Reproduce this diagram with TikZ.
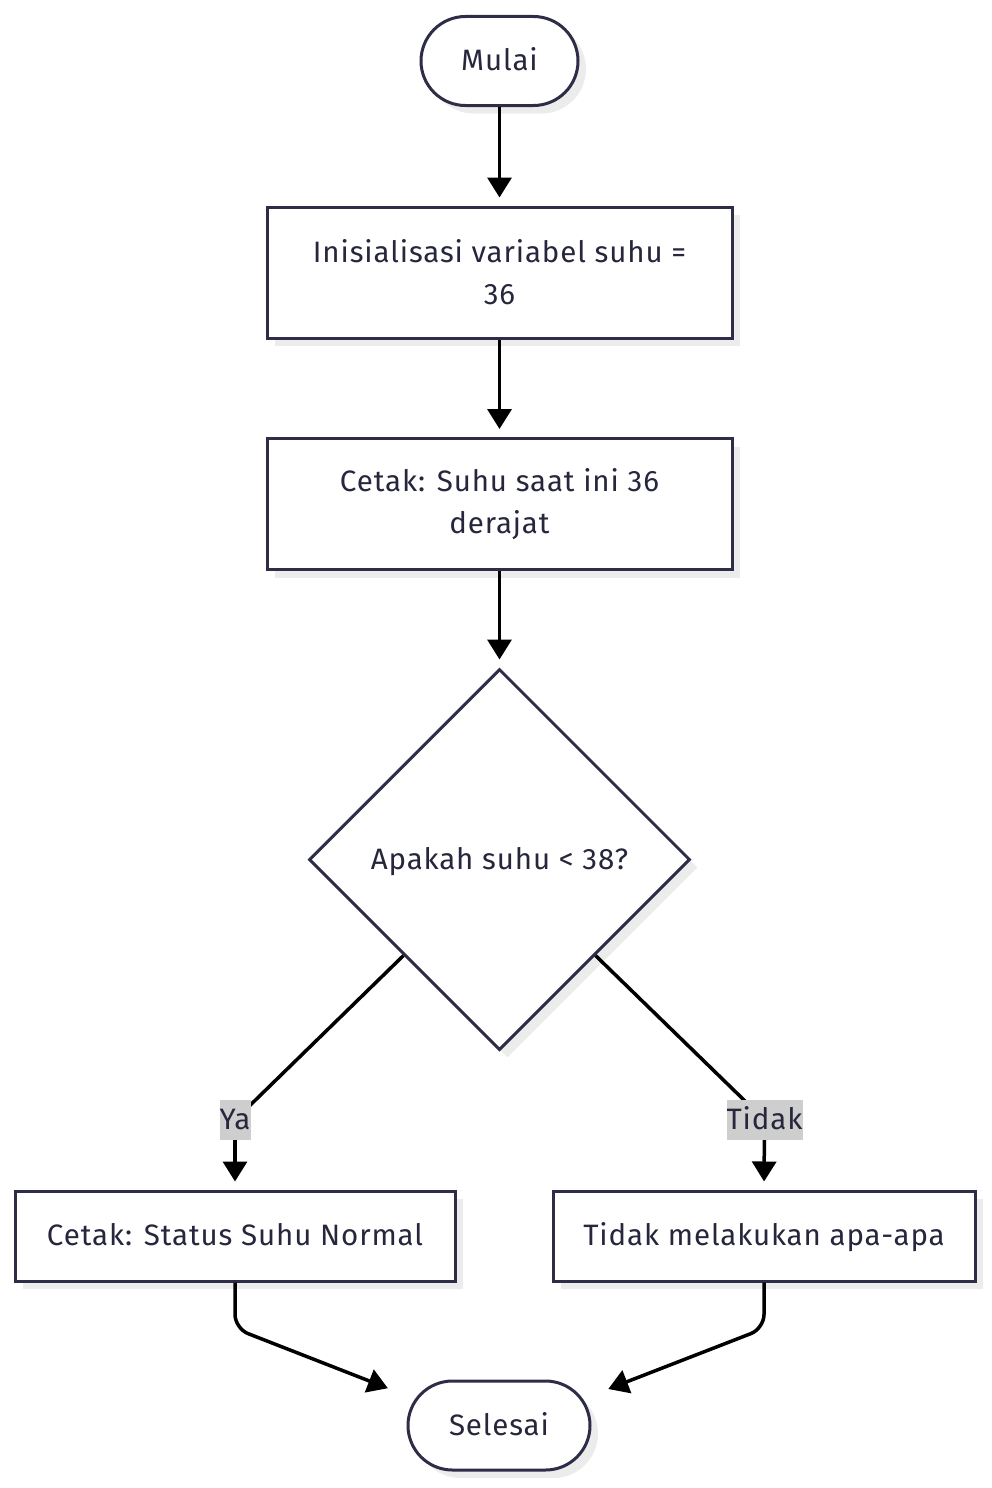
\documentclass[tikz,border=0pt]{standalone}
\usepackage{fontspec}
\setmainfont{Fira Sans}[LetterSpace=3]
\usetikzlibrary{shapes.geometric,arrows.meta,shadows,calc}
\definecolor{ink}{RGB}{38,38,60}
\definecolor{edgec}{RGB}{45,45,72}
\definecolor{shade}{RGB}{236,236,236}
\definecolor{lblgray}{RGB}{206,206,206}
\pgfdeclarelayer{fg}
\pgfsetlayers{main,fg}
\begin{document}
\begin{tikzpicture}[x=1pt,y=-1pt,
  font=\fontsize{29.5}{42}\selectfont, text=ink,
  oneline/.style={text height=24pt, text depth=5pt},
  base/.style={draw=edgec, line width=3pt, fill=white,
    drop shadow={shadow xshift=8pt, shadow yshift=-8pt, fill=shade, opacity=1},
    align=center, inner sep=0pt},
  term/.style={base, oneline, rectangle, rounded corners=44.5pt, minimum height=89pt},
  proc/.style={base, rectangle, minimum height=131pt},
  plain/.style={base, oneline, rectangle, minimum height=90pt},
  decision/.style={base, oneline, diamond, aspect=1, minimum width=381pt, minimum height=381pt},
  lbl/.style={oneline, fill=lblgray, inner sep=0pt, minimum height=40pt, text=ink},
  arr/.style={line width=3.5pt, draw=black, -{Triangle[length=20pt,width=24pt]}, shorten >=8pt},
  link/.style={line width=3.5pt, draw=black}
]
\useasboundingbox (0,0) rectangle (991,1488);

\node[term, minimum width=157pt] (start) at (499.5,61) {Mulai};
\node[proc, minimum width=465pt] (init) at (499.5,272.5) {Inisialisasi variabel suhu =\\36};
\node[proc, minimum width=465pt] (cetak) at (499.5,504) {Cetak: Suhu saat ini 36\\derajat};
\node[decision] (d) at (499.5,859.5) {Apakah suhu < 38?};
\node[plain, minimum width=440pt] (normal) at (235,1236) {Cetak: Status Suhu Normal};
\node[plain, minimum width=422pt] (nothing) at (764,1236) {Tidak melakukan apa-apa};
\node[term, minimum width=182pt] (end) at (499,1425.5) {Selesai};

\begin{pgfonlayer}{fg}
\node[lbl, minimum width=31pt] (ya) at (235,1120) {Ya};
\node[lbl, minimum width=76pt] (tidak) at (764.5,1120) {Tidak};
\end{pgfonlayer}

\draw[arr] (start.south) -- (init.north);
\draw[arr] (init.south) -- (cetak.north);
\draw[arr] (cetak.south) -- (d.north);
\draw[link] (d.south west) -- (ya.center);
\draw[arr] (ya.center) -- (normal.north);
\draw[link] (d.south east) -- (tidak.center);
\draw[arr] (tidak.center) -- (nothing.north);
\draw[arr, rounded corners=14pt, shorten >=20pt] (normal.south) -- ++(0,46) -- ($(end.west)+(0,-30)$);
\draw[arr, rounded corners=14pt, shorten >=18pt] (nothing.south) -- ++(0,46) -- ($(end.east)+(0,-30)$);
\end{tikzpicture}
\end{document}
